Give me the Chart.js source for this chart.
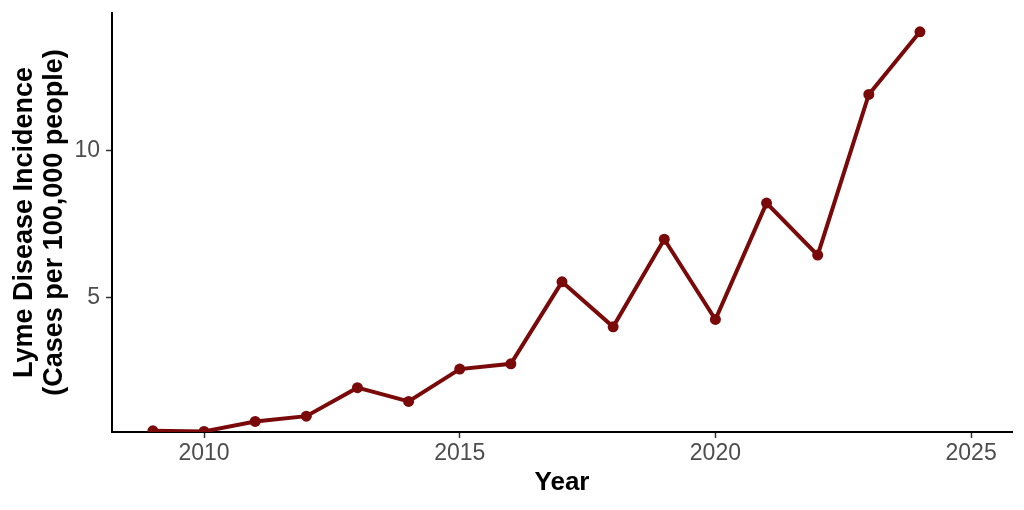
<!DOCTYPE html>
<html>
<head>
<meta charset="utf-8">
<script src="https://cdn.jsdelivr.net/npm/chart.js@4.4.1/dist/chart.umd.min.js"></script>
<style>
  html, body { margin: 0; padding: 0; background: #fff; }
  #wrap { width: 1024px; height: 510px; }
</style>
</head>
<body>
<div id="wrap"><canvas id="lymeChart"></canvas></div>
<script>
// Data
const years = [2009, 2010, 2011, 2012, 2013, 2014, 2015, 2016, 2017, 2018, 2019, 2020, 2021, 2022, 2023, 2024];
const incidence = [0.47, 0.45, 0.79, 0.97, 1.94, 1.47, 2.57, 2.75, 5.54, 4.01, 6.99, 4.26, 8.22, 6.45, 11.92, 14.05];
const xTicks = [2010, 2015, 2020, 2025];
const yTicks = [5, 10];

const lineColor = '#7a0a0a';
const tickColor = '#4d4d4d';
const family = '"Liberation Sans", Arial, Helvetica, sans-serif';

const ctx = document.getElementById('lymeChart').getContext('2d');
const lymeChart = new Chart(ctx, {
    type: 'line',
    data: {
        datasets: [{
            label: 'Lyme Disease Incidence',
            data: years.map((y, i) => ({ x: y, y: incidence[i] })),
            borderColor: lineColor,
            backgroundColor: lineColor,
            borderWidth: 4,
            pointRadius: 5.5,
            pointHoverRadius: 5.5,
            pointBorderWidth: 0,
            tension: 0,
            fill: false
        }]
    },
    options: {
        responsive: true,
        maintainAspectRatio: false,
        animation: false,
        layout: {
            padding: { top: 13, right: 12, bottom: 0, left: 0 }
        },
        plugins: {
            legend: { display: false },
            tooltip: { enabled: false }
        },
        scales: {
            x: {
                type: 'linear',
                min: 2008.2,
                max: 2025.8,
                afterBuildTicks: function(scale) {
                    scale.ticks = xTicks.map(v => ({ value: v }));
                },
                afterFit: function(scale) {
                    scale.height = 78;
                    scale.paddingLeft = 0;
                    scale.paddingRight = 0;
                },
                grid: {
                    drawOnChartArea: false,
                    drawTicks: true,
                    tickLength: 6,
                    tickColor: '#333333',
                    tickWidth: 1.5
                },
                border: { display: true, color: '#000000', width: 2 },
                ticks: {
                    color: tickColor,
                    padding: 2,
                    maxRotation: 0,
                    font: { family: family, size: 23 },
                    callback: function(value) { return String(value); }
                },
                title: {
                    display: true,
                    text: 'Year',
                    color: '#000000',
                    padding: { top: 0, bottom: 13 },
                    font: { family: family, size: 26, weight: 'bold', lineHeight: 1.1 }
                }
            },
            y: {
                type: 'linear',
                min: 0.43,
                max: 14.69,
                afterBuildTicks: function(scale) {
                    scale.ticks = yTicks.map(v => ({ value: v }));
                },
                afterFit: function(scale) {
                    scale.width = 112;
                    scale.paddingTop = 0;
                    scale.paddingBottom = 0;
                },
                grid: {
                    drawOnChartArea: false,
                    drawTicks: true,
                    tickLength: 6,
                    tickColor: '#333333',
                    tickWidth: 1.5
                },
                border: { display: true, color: '#000000', width: 2 },
                ticks: {
                    color: tickColor,
                    padding: 6,
                    font: { family: family, size: 23 },
                    callback: function(value) { return String(value); }
                },
                title: {
                    display: true,
                    text: ['Lyme Disease Incidence', '(Cases per 100,000 people)'],
                    color: '#000000',
                    padding: { top: 10, bottom: 0 },
                    font: { family: family, size: 27, weight: 'bold', lineHeight: 1.11 }
                }
            }
        }
    }
});
</script>
</body>
</html>
